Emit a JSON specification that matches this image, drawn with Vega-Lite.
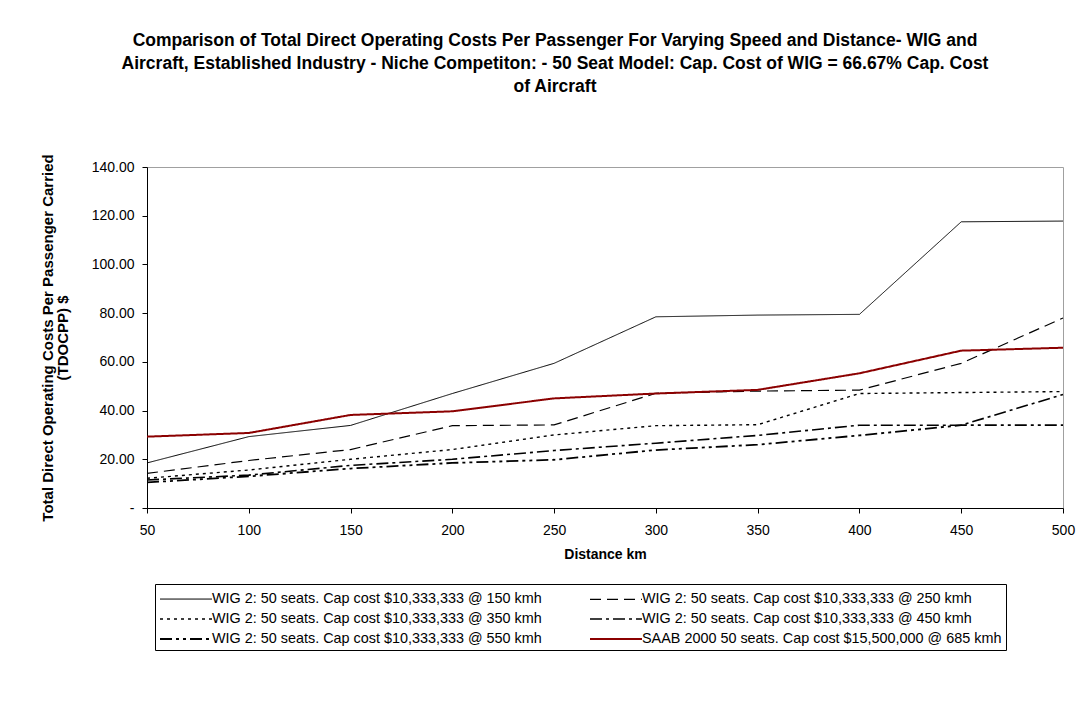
{
  "$schema": "https://vega.github.io/schema/vega-lite/v6.json",
  "autosize": "none",
  "width": 916,
  "height": 341,
  "padding": {"left": 147, "top": 167, "right": 25, "bottom": 198},
  "background": "white",
  "config": {
    "font": "Liberation Sans",
    "view": {"stroke": "#a0a0a0", "strokeWidth": 1},
    "axis": {"labelColor": "black", "titleColor": "black", "domainColor": "black", "tickColor": "black", "grid": false}
  },
  "title": {
    "text": [
      "Comparison of Total Direct Operating Costs Per Passenger For Varying Speed and Distance- WIG and",
      "Aircraft, Established Industry - Niche Competiton: - 50 Seat Model: Cap. Cost of WIG = 66.67% Cap. Cost",
      "of Aircraft"
    ],
    "anchor": "middle",
    "dx": -50,
    "fontSize": 17.5,
    "fontWeight": "bold",
    "color": "black",
    "lineHeight": 23,
    "offset": 58
  },
  "data": {
    "values": [
      {"km": 50, "series": "WIG 2: 50 seats. Cap cost $10,333,333 @ 150 kmh", "cost": 18.5},
      {"km": 100, "series": "WIG 2: 50 seats. Cap cost $10,333,333 @ 150 kmh", "cost": 29.3},
      {"km": 150, "series": "WIG 2: 50 seats. Cap cost $10,333,333 @ 150 kmh", "cost": 33.9},
      {"km": 200, "series": "WIG 2: 50 seats. Cap cost $10,333,333 @ 150 kmh", "cost": 47.0},
      {"km": 250, "series": "WIG 2: 50 seats. Cap cost $10,333,333 @ 150 kmh", "cost": 59.4},
      {"km": 300, "series": "WIG 2: 50 seats. Cap cost $10,333,333 @ 150 kmh", "cost": 78.5},
      {"km": 350, "series": "WIG 2: 50 seats. Cap cost $10,333,333 @ 150 kmh", "cost": 79.2},
      {"km": 400, "series": "WIG 2: 50 seats. Cap cost $10,333,333 @ 150 kmh", "cost": 79.5},
      {"km": 450, "series": "WIG 2: 50 seats. Cap cost $10,333,333 @ 150 kmh", "cost": 117.5},
      {"km": 500, "series": "WIG 2: 50 seats. Cap cost $10,333,333 @ 150 kmh", "cost": 117.8},
      {"km": 50, "series": "WIG 2: 50 seats. Cap cost $10,333,333 @ 250 kmh", "cost": 14.2},
      {"km": 100, "series": "WIG 2: 50 seats. Cap cost $10,333,333 @ 250 kmh", "cost": 19.5},
      {"km": 150, "series": "WIG 2: 50 seats. Cap cost $10,333,333 @ 250 kmh", "cost": 24.0},
      {"km": 200, "series": "WIG 2: 50 seats. Cap cost $10,333,333 @ 250 kmh", "cost": 33.8},
      {"km": 250, "series": "WIG 2: 50 seats. Cap cost $10,333,333 @ 250 kmh", "cost": 34.1},
      {"km": 300, "series": "WIG 2: 50 seats. Cap cost $10,333,333 @ 250 kmh", "cost": 47.1},
      {"km": 350, "series": "WIG 2: 50 seats. Cap cost $10,333,333 @ 250 kmh", "cost": 48.0},
      {"km": 400, "series": "WIG 2: 50 seats. Cap cost $10,333,333 @ 250 kmh", "cost": 48.4},
      {"km": 450, "series": "WIG 2: 50 seats. Cap cost $10,333,333 @ 250 kmh", "cost": 59.4},
      {"km": 500, "series": "WIG 2: 50 seats. Cap cost $10,333,333 @ 250 kmh", "cost": 78.0},
      {"km": 50, "series": "WIG 2: 50 seats. Cap cost $10,333,333 @ 350 kmh", "cost": 12.2},
      {"km": 100, "series": "WIG 2: 50 seats. Cap cost $10,333,333 @ 350 kmh", "cost": 15.6},
      {"km": 150, "series": "WIG 2: 50 seats. Cap cost $10,333,333 @ 350 kmh", "cost": 20.0},
      {"km": 200, "series": "WIG 2: 50 seats. Cap cost $10,333,333 @ 350 kmh", "cost": 24.0},
      {"km": 250, "series": "WIG 2: 50 seats. Cap cost $10,333,333 @ 350 kmh", "cost": 30.0},
      {"km": 300, "series": "WIG 2: 50 seats. Cap cost $10,333,333 @ 350 kmh", "cost": 33.8},
      {"km": 350, "series": "WIG 2: 50 seats. Cap cost $10,333,333 @ 350 kmh", "cost": 34.2},
      {"km": 400, "series": "WIG 2: 50 seats. Cap cost $10,333,333 @ 350 kmh", "cost": 47.0},
      {"km": 450, "series": "WIG 2: 50 seats. Cap cost $10,333,333 @ 350 kmh", "cost": 47.4},
      {"km": 500, "series": "WIG 2: 50 seats. Cap cost $10,333,333 @ 350 kmh", "cost": 47.8},
      {"km": 50, "series": "WIG 2: 50 seats. Cap cost $10,333,333 @ 450 kmh", "cost": 11.5},
      {"km": 100, "series": "WIG 2: 50 seats. Cap cost $10,333,333 @ 450 kmh", "cost": 13.5},
      {"km": 150, "series": "WIG 2: 50 seats. Cap cost $10,333,333 @ 450 kmh", "cost": 17.5},
      {"km": 200, "series": "WIG 2: 50 seats. Cap cost $10,333,333 @ 450 kmh", "cost": 20.0},
      {"km": 250, "series": "WIG 2: 50 seats. Cap cost $10,333,333 @ 450 kmh", "cost": 23.6},
      {"km": 300, "series": "WIG 2: 50 seats. Cap cost $10,333,333 @ 450 kmh", "cost": 26.6},
      {"km": 350, "series": "WIG 2: 50 seats. Cap cost $10,333,333 @ 450 kmh", "cost": 29.8},
      {"km": 400, "series": "WIG 2: 50 seats. Cap cost $10,333,333 @ 450 kmh", "cost": 34.0},
      {"km": 450, "series": "WIG 2: 50 seats. Cap cost $10,333,333 @ 450 kmh", "cost": 34.0},
      {"km": 500, "series": "WIG 2: 50 seats. Cap cost $10,333,333 @ 450 kmh", "cost": 46.6},
      {"km": 50, "series": "WIG 2: 50 seats. Cap cost $10,333,333 @ 550 kmh", "cost": 10.5},
      {"km": 100, "series": "WIG 2: 50 seats. Cap cost $10,333,333 @ 550 kmh", "cost": 13.0},
      {"km": 150, "series": "WIG 2: 50 seats. Cap cost $10,333,333 @ 550 kmh", "cost": 16.2},
      {"km": 200, "series": "WIG 2: 50 seats. Cap cost $10,333,333 @ 550 kmh", "cost": 18.5},
      {"km": 250, "series": "WIG 2: 50 seats. Cap cost $10,333,333 @ 550 kmh", "cost": 19.8},
      {"km": 300, "series": "WIG 2: 50 seats. Cap cost $10,333,333 @ 550 kmh", "cost": 23.8},
      {"km": 350, "series": "WIG 2: 50 seats. Cap cost $10,333,333 @ 550 kmh", "cost": 26.0},
      {"km": 400, "series": "WIG 2: 50 seats. Cap cost $10,333,333 @ 550 kmh", "cost": 29.8},
      {"km": 450, "series": "WIG 2: 50 seats. Cap cost $10,333,333 @ 550 kmh", "cost": 34.0},
      {"km": 500, "series": "WIG 2: 50 seats. Cap cost $10,333,333 @ 550 kmh", "cost": 34.0},
      {"km": 50, "series": "SAAB 2000 50 seats. Cap cost $15,500,000 @ 685 kmh", "cost": 29.3},
      {"km": 100, "series": "SAAB 2000 50 seats. Cap cost $15,500,000 @ 685 kmh", "cost": 30.8},
      {"km": 150, "series": "SAAB 2000 50 seats. Cap cost $15,500,000 @ 685 kmh", "cost": 38.2},
      {"km": 200, "series": "SAAB 2000 50 seats. Cap cost $15,500,000 @ 685 kmh", "cost": 39.7},
      {"km": 250, "series": "SAAB 2000 50 seats. Cap cost $15,500,000 @ 685 kmh", "cost": 45.0},
      {"km": 300, "series": "SAAB 2000 50 seats. Cap cost $15,500,000 @ 685 kmh", "cost": 47.0},
      {"km": 350, "series": "SAAB 2000 50 seats. Cap cost $15,500,000 @ 685 kmh", "cost": 48.5},
      {"km": 400, "series": "SAAB 2000 50 seats. Cap cost $15,500,000 @ 685 kmh", "cost": 55.3},
      {"km": 450, "series": "SAAB 2000 50 seats. Cap cost $15,500,000 @ 685 kmh", "cost": 64.6},
      {"km": 500, "series": "SAAB 2000 50 seats. Cap cost $15,500,000 @ 685 kmh", "cost": 65.8}
    ]
  },
  "mark": {"type": "line", "strokeCap": "butt"},
  "encoding": {
    "x": {
      "field": "km",
      "type": "quantitative",
      "scale": {"domain": [50, 500], "nice": false, "zero": false},
      "axis": {
        "values": [50, 100, 150, 200, 250, 300, 350, 400, 450, 500],
        "title": "Distance km",
        "titleFontSize": 14,
        "titleFontWeight": "bold",
        "titlePadding": 10,
        "labelFontSize": 14,
        "labelPadding": 10,
        "tickSize": 5,
        "labelFlush": false
      }
    },
    "y": {
      "field": "cost",
      "type": "quantitative",
      "scale": {"domain": [0, 140], "nice": false},
      "axis": {
        "values": [0, 20, 40, 60, 80, 100, 120, 140],
        "labelExpr": "datum.value == 0 ? '-\u00a0\u00a0\u00a0\u00a0\u00a0' : format(datum.value, '.2f')",
        "title": ["Total Direct Operating Costs Per Passenger Carried", "(TDOCPP) $"],
        "titleFontSize": 15,
        "titleFontWeight": "bold",
        "titleLineHeight": 15,
        "titlePadding": 21,
        "labelFontSize": 14,
        "labelPadding": 8,
        "tickSize": 5
      }
    },
    "color": {
      "field": "series",
      "type": "nominal",
      "scale": {
        "domain": [
          "WIG 2: 50 seats. Cap cost $10,333,333 @ 150 kmh",
          "WIG 2: 50 seats. Cap cost $10,333,333 @ 250 kmh",
          "WIG 2: 50 seats. Cap cost $10,333,333 @ 350 kmh",
          "WIG 2: 50 seats. Cap cost $10,333,333 @ 450 kmh",
          "WIG 2: 50 seats. Cap cost $10,333,333 @ 550 kmh",
          "SAAB 2000 50 seats. Cap cost $15,500,000 @ 685 kmh"
        ],
        "range": ["black", "black", "black", "black", "black", "#8B0000"]
      },
      "legend": {
        "orient": "none",
        "legendX": 8,
        "legendY": 417,
        "columns": 2,
        "direction": "horizontal",
        "title": null,
        "strokeColor": "black",
        "padding": 4,
        "symbolType": "M-2.6,0H2.6",
        "symbolSize": 400,
        "symbolOffset": 16,
        "labelFontSize": 14.4,
        "labelColor": "black",
        "labelLimit": 600,
        "labelOffset": 15,
        "rowPadding": 2,
        "columnPadding": 44
      }
    },
    "strokeDash": {
      "field": "series",
      "type": "nominal",
      "scale": {
        "domain": [
          "WIG 2: 50 seats. Cap cost $10,333,333 @ 150 kmh",
          "WIG 2: 50 seats. Cap cost $10,333,333 @ 250 kmh",
          "WIG 2: 50 seats. Cap cost $10,333,333 @ 350 kmh",
          "WIG 2: 50 seats. Cap cost $10,333,333 @ 450 kmh",
          "WIG 2: 50 seats. Cap cost $10,333,333 @ 550 kmh",
          "SAAB 2000 50 seats. Cap cost $15,500,000 @ 685 kmh"
        ],
        "range": [[1, 0], [11, 6], [3, 4], [12, 4, 3, 4], [12, 4, 3, 4, 3, 4], [1, 0]]
      }
    },
    "strokeWidth": {
      "field": "series",
      "type": "nominal",
      "scale": {
        "domain": [
          "WIG 2: 50 seats. Cap cost $10,333,333 @ 150 kmh",
          "WIG 2: 50 seats. Cap cost $10,333,333 @ 250 kmh",
          "WIG 2: 50 seats. Cap cost $10,333,333 @ 350 kmh",
          "WIG 2: 50 seats. Cap cost $10,333,333 @ 450 kmh",
          "WIG 2: 50 seats. Cap cost $10,333,333 @ 550 kmh",
          "SAAB 2000 50 seats. Cap cost $15,500,000 @ 685 kmh"
        ],
        "range": [1, 2, 2, 2, 2, 3]
      }
    }
  }
}
